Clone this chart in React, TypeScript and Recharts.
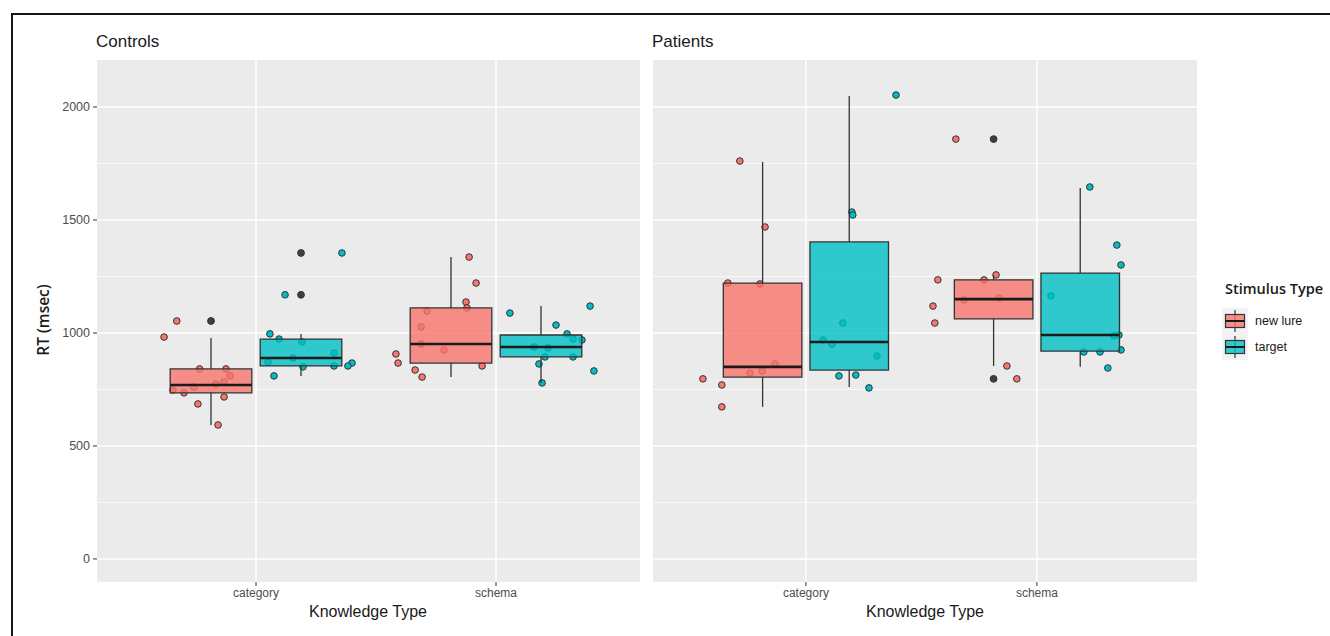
import React from 'react';
import { ComposedChart, Scatter, XAxis, YAxis, CartesianGrid, ReferenceArea, ReferenceLine } from 'recharts';

const CATEGORIES = ['category', 'schema'];
const STIMULUS_TYPES = ['new lure', 'target'];
const Y_TICKS = [0, 500, 1000, 1500, 2000];
const Y_MINOR = [250, 750, 1250, 1750];

// jittered observations: [x position, RT msec]
const controlsCategoryLure = [[0.670, 1053], [0.617, 982], [0.765, 841], [0.875, 841], [0.892, 810], [0.867, 783], [0.833, 774], [0.742, 761], [0.700, 735], [0.654, 748], [0.867, 717], [0.758, 686], [0.842, 593]];
const controlsCategoryTarget = [[1.058, 996], [1.096, 973], [1.192, 960], [1.325, 911], [1.050, 872], [1.154, 889], [1.196, 850], [1.325, 854], [1.400, 867], [1.383, 854], [1.075, 810], [1.358, 1354], [1.121, 1169]];
const controlsSchemaLure = [[1.888, 1336], [1.917, 1221], [1.875, 1137], [1.879, 1111], [1.713, 1097], [1.688, 1027], [1.688, 951], [1.783, 925], [1.583, 907], [1.592, 867], [1.663, 836], [1.692, 805], [1.942, 854]];
const controlsSchemaTarget = [[2.058, 1088], [2.392, 1119], [2.250, 1035], [2.296, 996], [2.321, 973], [2.358, 969], [2.158, 938], [2.217, 934], [2.204, 894], [2.321, 894], [2.179, 863], [2.408, 832], [2.192, 779]];

const patientsCategoryLure = [[0.714, 1761], [0.823, 1469], [0.662, 1221], [0.801, 1217], [0.866, 863], [0.810, 832], [0.758, 823], [0.554, 797], [0.636, 770], [0.636, 673]];
const patientsCategoryTarget = [[1.390, 2053], [1.199, 1535], [1.203, 1522], [1.160, 1044], [1.074, 969], [1.113, 951], [1.307, 898], [1.143, 810], [1.216, 814], [1.273, 757]];
const patientsSchemaLure = [[1.649, 1858], [1.571, 1235], [1.550, 1119], [1.558, 1044], [1.771, 1235], [1.823, 1257], [1.684, 1146], [1.836, 1155], [1.870, 854], [1.913, 797]];
const patientsSchemaTarget = [[2.229, 1646], [2.346, 1389], [2.364, 1301], [2.061, 1164], [2.333, 987], [2.355, 991], [2.203, 916], [2.273, 916], [2.364, 925], [2.307, 845]];

// box stats per group (category/lure, category/target, schema/lure, schema/target): [lower whisker, q1, median, q3, upper whisker]
const controlsBoxes = [[593, 735, 770, 841, 978], [810, 854, 889, 973, 996], [805, 867, 951, 1111, 1336], [779, 894, 938, 991, 1119]];
const controlsOutliers = [[1053], [1354, 1169], [], []];
const patientsBoxes = [[673, 805, 850, 1221, 1757], [761, 836, 960, 1403, 2049], [854, 1062, 1150, 1235, 1257], [850, 920, 991, 1265, 1642]];
const patientsOutliers = [[], [], [1858, 797], []];

const FILLS = ['#F8766D', '#00BFC4'];
const DODGE = 0.1875;
const HALF = 0.17;
const FONT = '"Liberation Sans", Arial, sans-serif';

interface PanelProps {
  groups: number[][][];
  boxes: number[][];
  outliers: number[][];
  domain: [number, number];
  left: number;
  width: number;
  showY: boolean;
}

const Panel: React.FC<PanelProps> = ({ groups, boxes, outliers, domain, left, width, showY }) => {
  const centre = (i: number) => Math.floor(i / 2) + 1 + (i % 2 === 0 ? -DODGE : DODGE);
  const outlierPts = outliers.flatMap((vals, i) => vals.map((y) => ({ x: centre(i), y })));
  return (
    <div style={{ position: 'absolute', left, top: 0 }}>
      <ComposedChart width={width} height={636} margin={{ top: 60, right: showY ? 20 : 0, bottom: 24, left: 0 }}>
        <CartesianGrid fill="#EBEBEB" stroke="#FFFFFF" strokeWidth={1.4} horizontalValues={Y_TICKS} verticalValues={[1, 2]} />
        <CartesianGrid fill="none" stroke="#FFFFFF" strokeWidth={0.7} horizontalValues={Y_MINOR} vertical={false} />
        <XAxis
          type="number"
          dataKey="x"
          domain={domain}
          allowDataOverflow
          ticks={[1, 2]}
          interval={0}
          tickFormatter={(v: number) => CATEGORIES[v - 1]}
          axisLine={false}
          tickSize={4}
          tickMargin={2}
          tickLine={{ stroke: '#333' }}
          tick={{ fill: '#4D4D4D', fontSize: 12, fontFamily: FONT }}
          height={30}
        />
        <YAxis
          type="number"
          dataKey="y"
          domain={[-102, 2208]}
          allowDataOverflow
          ticks={Y_TICKS}
          interval={0}
          hide={!showY}
          width={97}
          axisLine={false}
          tickSize={4}
          tickMargin={3}
          tickLine={{ stroke: '#333' }}
          tick={{ fill: '#4D4D4D', fontSize: 12.5, fontFamily: FONT }}
        />
        {groups.map((pts, i) => (
          <Scatter
            key={`pts${i}`}
            data={pts.map(([x, y]) => ({ x, y }))}
            dataKey="y"
            isAnimationActive={false}
            zIndex={-50}
            shape={(p: any) => <circle cx={p.cx} cy={p.cy} r={3.3} fill={FILLS[i % 2]} stroke="#333" strokeWidth={1} />}
          />
        ))}
        {boxes.map(([lo, q1, med, q3, hi], i) => {
          const c = centre(i);
          return (
            <React.Fragment key={`box${i}`}>
              <ReferenceLine segment={[{ x: c, y: lo }, { x: c, y: q1 }]} stroke="#333" strokeWidth={1.3} strokeOpacity={1} zIndex={200} />
              <ReferenceLine segment={[{ x: c, y: q3 }, { x: c, y: hi }]} stroke="#333" strokeWidth={1.3} strokeOpacity={1} zIndex={200} />
              <ReferenceArea x1={c - HALF} x2={c + HALF} y1={q1} y2={q3} fill={FILLS[i % 2]} fillOpacity={0.8} stroke="#333" strokeWidth={1.3} zIndex={100} />
              <ReferenceLine segment={[{ x: c - HALF, y: med }, { x: c + HALF, y: med }]} stroke="#1A1A1A" strokeWidth={2.6} strokeOpacity={1} zIndex={300} />
            </React.Fragment>
          );
        })}
        <Scatter
          data={outlierPts}
          dataKey="y"
          isAnimationActive={false}
          zIndex={600}
          shape={(p: any) => <circle cx={p.cx} cy={p.cy} r={3.4} fill="#3F3F3F" stroke="#333" strokeWidth={1} />}
        />
      </ComposedChart>
    </div>
  );
};

const text = (s: React.CSSProperties): React.CSSProperties => ({ position: 'absolute', fontFamily: FONT, whiteSpace: 'nowrap', ...s });

export default function App() {
  return (
    <div style={{ position: 'absolute', left: 0, top: 0, width: 1330, height: 636, background: '#fff', overflow: 'hidden' }}>
      <div style={{ position: 'absolute', left: 11, top: 13, width: 1400, height: 700, borderLeft: '2px solid #151515', borderTop: '2px solid #151515' }} />
      <Panel
        groups={[controlsCategoryLure, controlsCategoryTarget, controlsSchemaLure, controlsSchemaTarget]}
        boxes={controlsBoxes}
        outliers={controlsOutliers}
        domain={[0.3375, 2.6]}
        left={0}
        width={660}
        showY
      />
      <Panel
        groups={[patientsCategoryLure, patientsCategoryTarget, patientsSchemaLure, patientsSchemaTarget]}
        boxes={patientsBoxes}
        outliers={patientsOutliers}
        domain={[0.338, 2.693]}
        left={653}
        width={544}
        showY={false}
      />
      <div style={text({ left: 96, top: 31, fontSize: 17, lineHeight: '22px', color: '#1A1A1A' })}>Controls</div>
      <div style={text({ left: 652, top: 31, fontSize: 17, lineHeight: '22px', color: '#1A1A1A' })}>Patients</div>
      <div style={text({ left: 268, top: 601, width: 200, textAlign: 'center', fontSize: 16, lineHeight: '22px', color: '#1A1A1A' })}>Knowledge Type</div>
      <div style={text({ left: 825, top: 601, width: 200, textAlign: 'center', fontSize: 16, lineHeight: '22px', color: '#1A1A1A' })}>Knowledge Type</div>
      <div style={text({ left: -57, top: 309, width: 200, textAlign: 'center', fontSize: 15.5, lineHeight: '22px', color: '#1A1A1A', fontFamily: '"Open Sans", sans-serif', fontWeight: 600, transform: 'rotate(-90deg)' })}>RT (msec)</div>
      <div style={text({ left: 1225, top: 278, fontSize: 14.5, lineHeight: '22px', color: '#1A1A1A', fontFamily: '"Open Sans", sans-serif', fontWeight: 600 })}>Stimulus Type</div>
      <svg style={{ position: 'absolute', left: 1222, top: 308 }} width={26} height={52}>
        {STIMULUS_TYPES.map((s, i) => (
          <g key={s} transform={`translate(0, ${i * 26})`}>
            <rect x={0} y={0} width={26} height={26} fill="#F2F2F2" />
            <line x1={13} x2={13} y1={2} y2={24} stroke="#333" strokeWidth={1.2} />
            <rect x={3.5} y={6.5} width={19} height={13} fill={FILLS[i]} fillOpacity={0.8} stroke="#333" strokeWidth={1.2} />
            <line x1={3.5} x2={22.5} y1={13} y2={13} stroke="#1A1A1A" strokeWidth={2} />
          </g>
        ))}
      </svg>
      {STIMULUS_TYPES.map((s, i) => (
        <div key={s} style={text({ left: 1255, top: 312 + i * 26, fontSize: 12.5, lineHeight: '18px', color: '#1A1A1A' })}>{s}</div>
      ))}
    </div>
  );
}
